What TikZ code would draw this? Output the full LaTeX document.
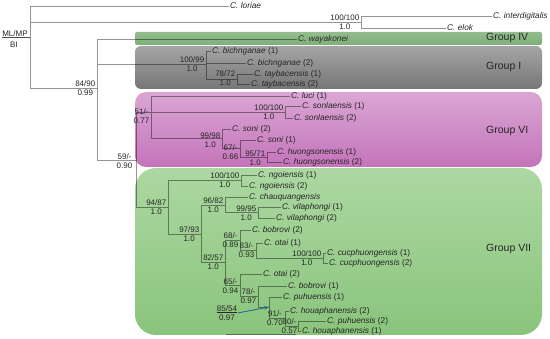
\documentclass[tikz,border=0pt]{standalone}
\usepackage{fontspec}
\setmainfont{Liberation Sans}
\usepackage{tikz}
\usetikzlibrary{arrows.meta}
\usepackage{xcolor}

\definecolor{gIVt}{RGB}{146,188,140}
\definecolor{gIVb}{RGB}{128,174,122}
\definecolor{gIt}{RGB}{165,165,165}
\definecolor{gIb}{RGB}{118,118,118}
\definecolor{gVIt}{RGB}{218,166,212}
\definecolor{gVIb}{RGB}{196,116,186}
\definecolor{gVIIt}{RGB}{172,216,162}
\definecolor{gVIIb}{RGB}{138,196,124}
\definecolor{arrowc}{RGB}{30,105,140}

\begin{document}
\begin{tikzpicture}[x=1pt, y=-1pt,
    br/.style={draw=black, draw opacity=0.42, line width=0.5pt},
    leaf/.style={anchor=west, inner sep=1pt, font=\fontsize{8.3}{10}\selectfont, text=black!85},
    sup/.style={anchor=east, align=center, inner sep=0.5pt, font=\fontsize{8}{9.6}\selectfont, text=black!85},
    grp/.style={anchor=west, inner sep=0pt, font=\fontsize{10.5}{12}\selectfont, text=black!85}]
    \useasboundingbox (0,0) rectangle (550,339);

    % 分组底色
    \shade[top color=gIVt, bottom color=gIVb, rounded corners=2pt] (135,32) rectangle (542,45);
    \shade[top color=gIt, bottom color=gIb, rounded corners=6pt] (135,46) rectangle (542,89);
    \shade[top color=gVIt, bottom color=gVIb, rounded corners=11pt] (135,92) rectangle (542,167);
    \shade[top color=gVIIt, bottom color=gVIIb, rounded corners=21pt] (135,168) rectangle (542,335);
    \node[grp] (grpIV) at (486,38) {Group IV};
    \node[grp] (grpI) at (486,67) {Group I};
    \node[grp] (grpVI) at (486,131) {Group VI};
    \node[grp] (grpVII) at (486,249) {Group VII};

    % 内部节点
    \coordinate (root) at (30,88);
    \coordinate (nTop) at (361,22);
    \coordinate (nIn) at (97,88);
    \coordinate (nG1) at (206,64);
    \coordinate (nTay) at (237,79);
    \coordinate (n59) at (136,160);
    \coordinate (n51) at (151,112);
    \coordinate (nSon) at (285,112);
    \coordinate (n99) at (222,138);
    \coordinate (n67) at (240,148);
    \coordinate (n95) at (267,157);
    \coordinate (n94) at (168,207);
    \coordinate (nNgo) at (241,180);
    \coordinate (n97) at (201,234);
    \coordinate (n96) at (225,205);
    \coordinate (nVila) at (258,212);
    \coordinate (n82) at (225,262);
    \coordinate (n68) at (240,240);
    \coordinate (n83) at (256,250);
    \coordinate (nCuc) at (323,258);
    \coordinate (n65) at (240,285);
    \coordinate (n78) at (258,296);
    \coordinate (n85) at (269,307);
    \coordinate (n91) at (285,318);
    \coordinate (n80) at (298,326);

    % 物种标签
    \node[leaf] (loriae) at (229,6) {\textit{C. loriae}};
    \node[leaf] (interd) at (492,16) {\textit{C. interdigitalis}};
    \node[leaf] (elok) at (446,28) {\textit{C. elok}};
    \node[leaf] (waya) at (297,39) {\textit{C. wayakonei}};
    \node[leaf] (bich1) at (211,51) {\textit{C. bichnganae} (1)};
    \node[leaf] (bich2) at (246,63) {\textit{C. bichnganae} (2)};
    \node[leaf] (tayb1) at (253,74) {\textit{C. taybacensis} (1)};
    \node[leaf] (tayb2) at (250,84) {\textit{C. taybacensis} (2)};
    \node[leaf] (luci1) at (290,96) {\textit{C. luci} (1)};
    \node[leaf] (sonl1) at (301,106) {\textit{C. sonlaensis} (1)};
    \node[leaf] (sonl2) at (293,118) {\textit{C. sonlaensis} (2)};
    \node[leaf] (soni2) at (231,129) {\textit{C. soni} (2)};
    \node[leaf] (soni1) at (256,140) {\textit{C. soni} (1)};
    \node[leaf] (huong1) at (276,152) {\textit{C. huongsonensis} (1)};
    \node[leaf] (huong2) at (282,162) {\textit{C. huongsonensis} (2)};
    \node[leaf] (ngoi1) at (257,175) {\textit{C. ngoiensis} (1)};
    \node[leaf] (ngoi2) at (248,186) {\textit{C. ngoiensis} (2)};
    \node[leaf] (chau) at (248,197) {\textit{C. chauquangensis}};
    \node[leaf] (vila1) at (281,207) {\textit{C. vilaphongi} (1)};
    \node[leaf] (vila2) at (275,218) {\textit{C. vilaphongi} (2)};
    \node[leaf] (bobr2) at (251,230) {\textit{C. bobrovi} (2)};
    \node[leaf] (otai1) at (263,243) {\textit{C. otai} (1)};
    \node[leaf] (cucp1) at (326,253) {\textit{C. cucphuongensis} (1)};
    \node[leaf] (cucp2) at (328,263) {\textit{C. cucphuongensis} (2)};
    \node[leaf] (otai2) at (262,274) {\textit{C. otai} (2)};
    \node[leaf] (bobr1) at (287,286) {\textit{C. bobrovi} (1)};
    \node[leaf] (puhu1) at (282,297) {\textit{C. puhuensis} (1)};
    \node[leaf] (houa2) at (289,311) {\textit{C. houaphanensis} (2)};
    \node[leaf] (puhu2) at (326,321) {\textit{C. puhuensis} (2)};
    \node[leaf] (houa1) at (301,331) {\textit{C. houaphanensis} (1)};

    % 分支
    \draw[br] (root) |- (loriae.west) (root) |- (nTop) (root) |- (nIn);
    \draw[br] (nTop) |- (interd.west) (nTop) |- (elok.west);
    \draw[br] (nIn) |- (waya.west) (nIn) |- (nG1) (nIn) |- (n59);
    \draw[br] (nG1) |- (bich1.west) (nG1) |- (bich2.west) (nG1) |- (nTay);
    \draw[br] (nTay) |- (tayb1.west) (nTay) |- (tayb2.west);
    \draw[br] (n59) |- (n51) (n59) |- (n94);
    \draw[br] (n51) |- (luci1.west) (n51) |- (nSon) (n51) |- (n99);
    \draw[br] (nSon) |- (sonl1.west) (nSon) |- (sonl2.west);
    \draw[br] (n99) |- (soni2.west) (n99) |- (n67);
    \draw[br] (n67) |- (soni1.west) (n67) |- (n95);
    \draw[br] (n95) |- (huong1.west) (n95) |- (huong2.west);
    \draw[br] (n94) |- (nNgo) (n94) |- (n97);
    \draw[br] (nNgo) |- (ngoi1.west) (nNgo) |- (ngoi2.west);
    \draw[br] (n97) |- (n96) (n97) |- (n82);
    \draw[br] (n96) |- (chau.west) (n96) |- (nVila);
    \draw[br] (nVila) |- (vila1.west) (nVila) |- (vila2.west);
    \draw[br] (n82) |- (n68) (n82) |- (n65);
    \draw[br] (n68) |- (bobr2.west) (n68) |- (n83);
    \draw[br] (n83) |- (otai1.west) (n83) |- (nCuc);
    \draw[br] (nCuc) |- (cucp1.west) (nCuc) |- (cucp2.west);
    \draw[br] (n65) |- (otai2.west) (n65) |- (n78);
    \draw[br] (n78) |- (bobr1.west) (n78) |- (n85);
    \draw[br] (n85) |- (puhu1.west) (n85) |- (n91);
    \draw[br] (n91) |- (houa2.west) (n91) |- (n80);
    \draw[br] (n80) |- (puhu2.west) (n80) |- (houa1.west);

    % 支持率 ML/MP 与 BI
    \node[sup] (sTop) at ([xshift=-1pt]nTop) {100/100\\1.0};
    \node[sup] (sIn) at ([xshift=-1pt]nIn) {84/90\\0.99};
    \node[sup] (sG1) at ([xshift=-1pt]nG1) {100/99\\1.0};
    \node[sup] (sTay) at ([xshift=-1pt,yshift=1pt]nTay) {78/72\\1.0};
    \node[sup] (s59) at ([xshift=-3pt,yshift=-1pt]n59) {59/-\\0.90};
    \node[sup] (s51) at ([xshift=-1pt,yshift=-4pt]n51) {51/-\\0.77};
    \node[sup] (sSon) at ([xshift=-1pt,yshift=0pt]nSon) {100/100\\1.0};
    \node[sup] (s99) at ([xshift=-1pt,yshift=-2pt]n99) {99/98\\1.0};
    \node[sup] (s67) at ([xshift=-1pt,yshift=-4pt]n67) {67/-\\0.66};
    \node[sup] (s95) at ([xshift=-1pt,yshift=-1pt]n95) {95/71\\1.0};
    \node[sup] (s94) at ([xshift=-1pt]n94) {94/87\\1.0};
    \node[sup] (sNgo) at ([xshift=-1pt]nNgo) {100/100\\1.0};
    \node[sup] (s97) at ([xshift=-1pt]n97) {97/93\\1.0};
    \node[sup] (s96) at ([xshift=-1pt]n96) {96/82\\1.0};
    \node[sup] (sVila) at ([xshift=-1pt,yshift=-1pt]nVila) {99/95\\1.0};
    \node[sup] (s82) at ([xshift=-1pt]n82) {82/57\\1.0};
    \node[sup] (s68) at ([xshift=-1pt]n68) {68/-\\0.89};
    \node[sup] (s83) at ([xshift=-1pt]n83) {83/-\\0.93};
    \node[sup] (sCuc) at ([xshift=-1pt]nCuc) {100/100\\1.0};
    \node[sup] (s65) at ([xshift=-1pt,yshift=-1pt]n65) {65/-\\0.94};
    \node[sup] (s78) at ([xshift=-1pt]n78) {78/-\\0.97};
    \node[sup] (s91) at ([xshift=-1.5pt]n91) {91/-\\0.70};
    \node[sup] (s80) at ([xshift=0pt]n80) {80/-\\0.57};
    \node[sup, anchor=center] (s85) at (227,313) {\underline{85/54}\\0.97};
    \draw[-{Stealth[length=5pt,width=3.5pt]}, draw=arrowc, fill=arrowc, line width=0.8pt] (s85.east) -- (n85);

    % 图例
    \node[sup, anchor=center] (mlmp) at (15,34) {ML/MP};
    \node[sup, anchor=center] (bi) at (14,45) {BI};
    \draw[black!70, line width=0.5pt] (mlmp.south west) -- (mlmp.south west -| root);

    % 标尺
    \coordinate (sb1) at (226,334);
    \coordinate (sb2) at (296,334);
    \draw[br] (sb1) -- (sb2);
\end{tikzpicture}
\end{document}
